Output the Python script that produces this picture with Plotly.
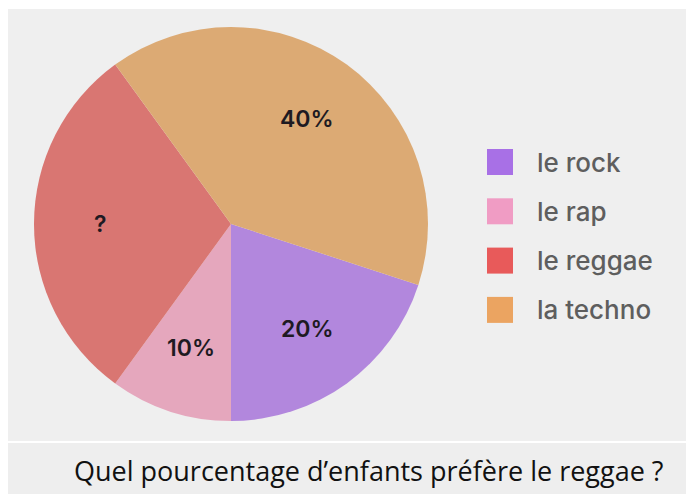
import math
import plotly.graph_objects as go

labels = ["le rock", "le rap", "le reggae", "la techno"]
values = [20, 10, 30, 40]
slice_text = ["20%", "10%", "?", "40%"]
slice_colors = ["#b287dd", "#e5a7bd", "#d97672", "#dcaa74"]
legend_colors = ["#a870e6", "#f09cc4", "#e85a5a", "#eba461"]
caption = "Quel pourcentage d\u2019enfants préfère le reggae ?"

# the page body adds an 8px margin on top/left; figure coordinates are page - 8
OFF = 8
W, H = 694, 495
CX, CY, R = 231 - OFF, 224 - OFF, 197   # pie centre / radius (figure px)
ROTATION = 108                          # degrees clockwise from 12 o'clock


def px2x(x):
    return x / W


def px2y(y):
    return 1 - y / H


fig = go.Figure()
fig.add_trace(go.Pie(
    labels=labels, values=values,
    textinfo="none", sort=False, direction="clockwise", rotation=ROTATION,
    marker=dict(colors=slice_colors, line=dict(width=0)),
    domain=dict(x=[px2x(CX - R), px2x(CX + R)], y=[px2y(CY + R), px2y(CY - R)]),
    showlegend=False, hoverinfo="label+value",
))

annotations = []
shapes = [
    dict(type="rect", xref="paper", yref="paper", x0=0, x1=1, y0=px2y(433), y1=px2y(1),
         fillcolor="#efefef", line=dict(width=0), layer="below"),
    dict(type="rect", xref="paper", yref="paper", x0=0, x1=1, y0=px2y(486), y1=px2y(435),
         fillcolor="#eeeeee", line=dict(width=0), layer="below"),
]

# slice labels placed on each slice bisector, derived from the values
total = sum(values)
acc = 0
for v, t in zip(values, slice_text):
    mid = ROTATION + (acc + v / 2) / total * 360
    acc += v
    a = math.radians(mid)
    px = CX + 0.66 * R * math.sin(a)
    py = CY - 0.66 * R * math.cos(a)
    annotations.append(dict(text=t, x=px2x(px), y=px2y(py), xref="paper", yref="paper",
                            xanchor="center", yanchor="middle", showarrow=False,
                            font=dict(family="Inter", size=23, color="#1e1a22", weight=600)))

# legend
for i, (lab, col) in enumerate(zip(labels, legend_colors)):
    yc = 162 - OFF + i * 49.3
    shapes.append(dict(type="rect", xref="paper", yref="paper",
                       x0=px2x(487 - OFF), x1=px2x(513 - OFF),
                       y0=px2y(yc + 13), y1=px2y(yc - 13),
                       fillcolor=col, line=dict(width=0)))
    annotations.append(dict(text=lab, x=px2x(527), y=px2y(yc), xref="paper", yref="paper",
                            xanchor="left", yanchor="middle", showarrow=False,
                            font=dict(family="Inter", size=26, color="#5e5e5e", weight=500)))

annotations.append(dict(text=caption, x=px2x(369 - OFF), y=px2y(470 - OFF), xref="paper", yref="paper",
                        xanchor="center", yanchor="middle", showarrow=False,
                        font=dict(family="Open Sans", size=27, color="#111111")))

fig.update_layout(
    width=W, height=H, margin=dict(l=0, r=0, t=0, b=0),
    paper_bgcolor="white", plot_bgcolor="rgba(0,0,0,0)",
    shapes=shapes, annotations=annotations,
)
fig.write_html("out.html")
